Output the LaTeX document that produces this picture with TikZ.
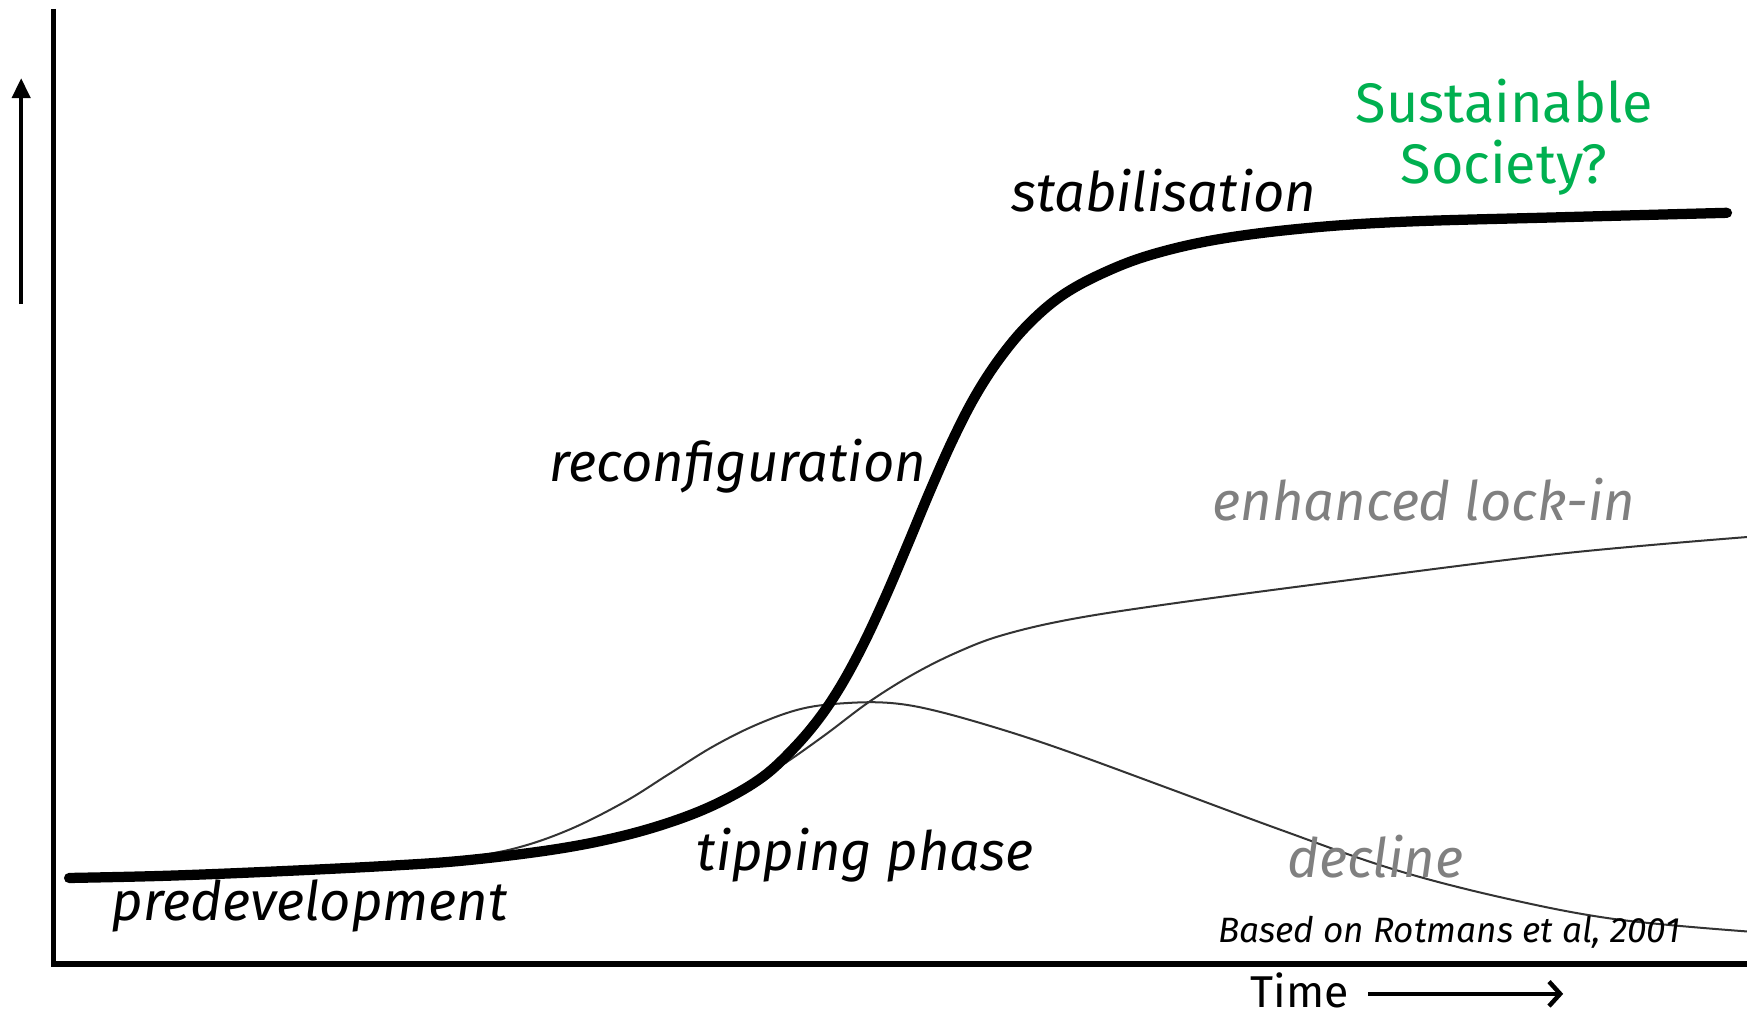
\documentclass[tikz,border=0pt]{standalone}
\usepackage{fontspec}
\setmainfont{Fira Sans}
\newfontfamily\labfont{Fira Sans}
\usetikzlibrary{arrows.meta}
\definecolor{sgreen}{RGB}{0,176,80}
\definecolor{lgray}{RGB}{128,128,128}
\begin{document}
\begin{tikzpicture}[x=0.5pt,y=-0.5pt,
  lab/.style={anchor=base west,inner sep=0pt,font=\labfont\fontsize{24.4}{29}\selectfont\itshape},
  glab/.style={lab,text=lgray},
  axis/.style={line width=2.5pt,line cap=butt},
  thick curve/.style={line width=4.6pt,line cap=round},
  thin curve/.style={line width=0.9pt,draw=black!80}]
\useasboundingbox (0,0) rectangle (1568,912);
% axes
\coordinate (o) at (48,865);
\coordinate (ytop) at (48,8);
\coordinate (xend) at (1568,865);
\draw[axis] (ytop) -- (o) -- (xend);
\coordinate (ua) at (19,273);
\coordinate (ub) at (19,70);
\draw[line width=2pt,-{Triangle[width=8pt,length=9pt]}] (ua) -- (ub);
% thin curves
\draw[thin curve] plot[smooth,tension=0.6] coordinates {(400,773) (460,762) (510,745) (560,720) (600,695) (640,670) (680,650) (720,636) (760,631) (800,631) (840,638) (900,655) (960,675) (1050,708) (1150,745) (1250,780) (1350,806) (1450,825) (1568,836)};
\draw[thin curve] plot[smooth,tension=0.6] coordinates {(620,730) (660,712) (700,688) (740,660) (780,630) (820,605) (860,585) (900,570) (960,556) (1050,542) (1200,522) (1400,497) (1568,482)};
% main curve
\draw[thick curve] plot[smooth,tension=0.6] coordinates {(62,788) (150,786) (250,782) (350,777) (420,772) (500,762) (560,750) (610,735) (650,718) (685,697) (712,672) (735,645) (755,615) (775,578) (795,535) (815,488) (835,440) (855,395) (875,356) (897,322) (922,292) (952,266) (988,246) (1032,229) (1092,215) (1170,205) (1260,199) (1400,195) (1550,191)};
% labels
\node[lab] (pre) at (100,826) {predevelopment};
\node[lab] (tip) at (625,781) {tipping phase};
\node[lab] (rec) at (493,432) {reconfiguration};
\node[lab] (sta) at (907,190) {stabilisation};
\node[glab] (enh) at (1088,467) {enhanced lock-in};
\node[glab] (dec) at (1155,788) {decline};
\node[anchor=base west,inner sep=0pt,font=\labfont\fontsize{15.8}{19}\selectfont\itshape] (src) at (1093,846) {Based on Rotmans et al, 2001};
\node[anchor=base,inner sep=0pt,text=sgreen,font=\fontsize{25}{30}\selectfont] (s1) at (1350,110) {Sustainable};
\node[anchor=base,inner sep=0pt,text=sgreen,font=\fontsize{25}{30}\selectfont] (s2) at (1350,165) {Society?};
\node[anchor=base west,inner sep=0pt,font=\fontsize{20}{24}\selectfont] (time) at (1122,904) {Time};
\coordinate (ta) at (1228,892);
\coordinate (tb) at (1403,892);
\draw[line width=2pt,-{Straight Barb[length=5pt,width=11pt,line width=2pt]}] (ta) -- (tb);
\end{tikzpicture}
\end{document}
